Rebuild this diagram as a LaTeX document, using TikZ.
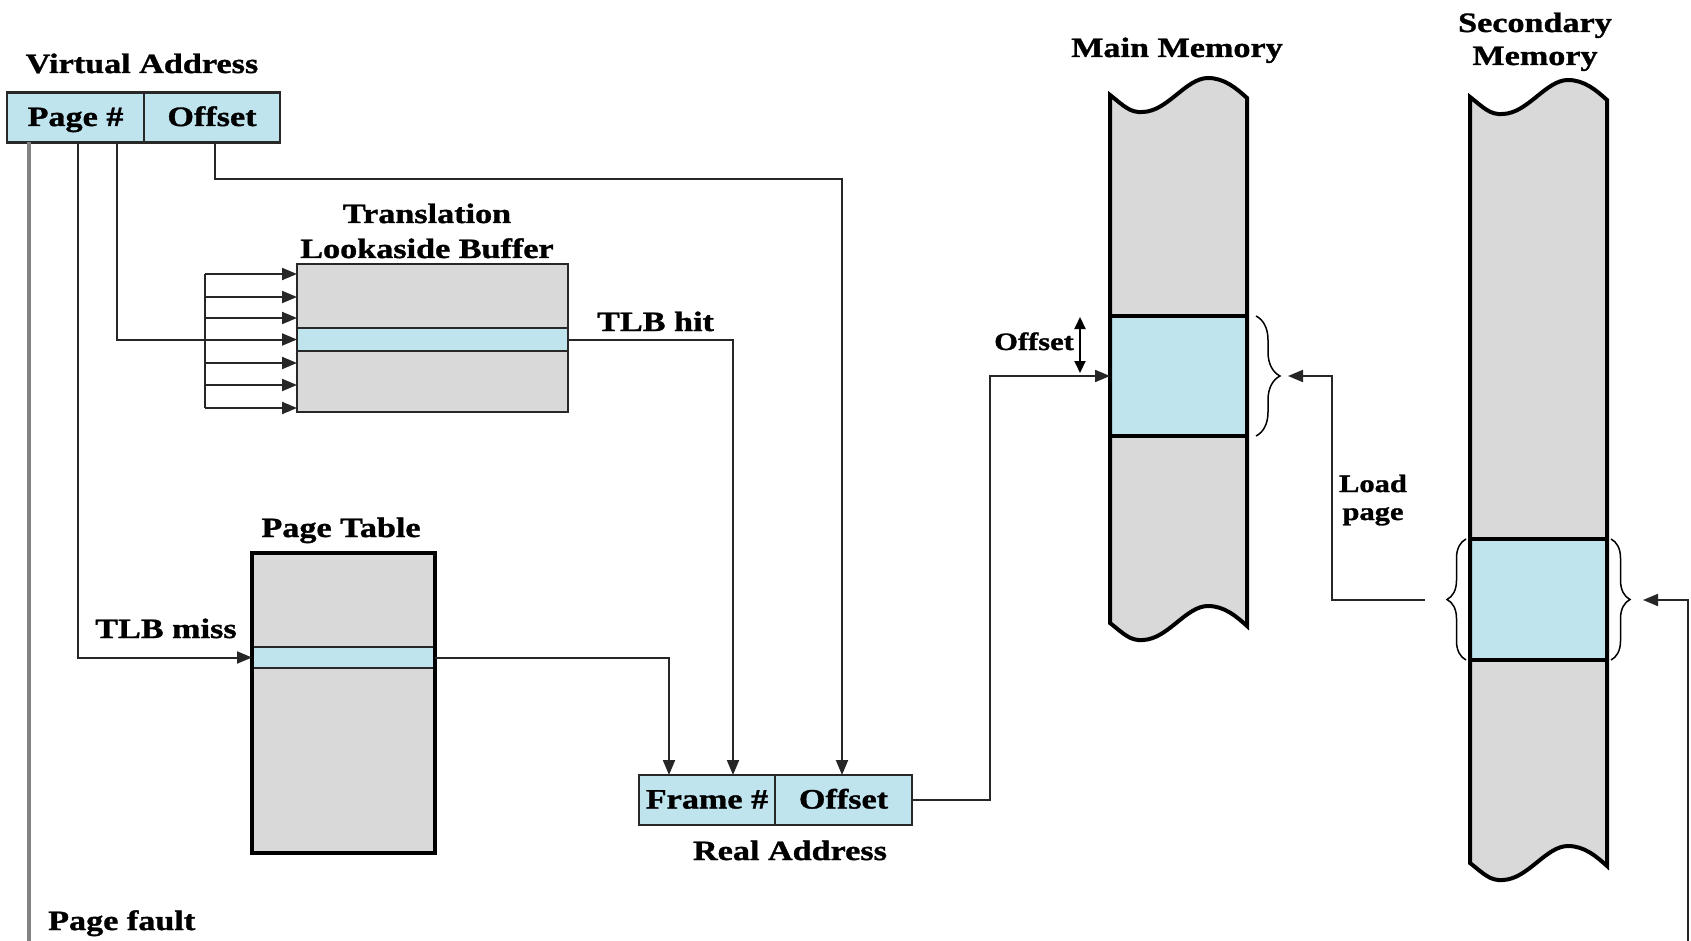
\documentclass[tikz,border=0pt]{standalone}
\usepackage{fontspec}
\setmainfont{Liberation Serif}[FakeStretch=1.22, BoldFeatures={FakeBold=1.2}]
\usetikzlibrary{arrows.meta,decorations.pathreplacing,calc}
\definecolor{lblue}{RGB}{191,228,238}
\definecolor{mgray}{RGB}{217,217,217}
\definecolor{fgray}{RGB}{130,130,130}
\definecolor{edge}{RGB}{40,40,40}
\begin{document}
\begin{tikzpicture}[x=1pt,y=-1pt,
  lbl/.style={font=\fontsize{28}{32}\selectfont\bfseries, inner sep=0pt, anchor=base},
  slbl/.style={font=\fontsize{25}{28}\selectfont\bfseries, inner sep=0pt, anchor=base},
  addr/.style={draw=edge, line width=2.5pt, fill=lblue, inner sep=0pt, outer sep=0pt, minimum height=50pt, text height=21pt, text depth=4pt, font=\fontsize{28}{32}\selectfont\bfseries},
  tab/.style={draw=edge, fill=mgray, inner sep=0pt, outer sep=0pt},
  rowb/.style={draw=edge, fill=lblue, inner sep=0pt, outer sep=0pt},
  conn/.style={draw=black!85, line width=2pt, -{Triangle[length=15pt,width=12pt]}},
  wire/.style={draw=black!85, line width=2pt},
  brc/.style={draw=black, line width=1.5pt, decorate, decoration={brace, amplitude=#1}},
  memline/.style={draw=black, line width=4pt}
]
\useasboundingbox (0,0) rectangle (1691,941);

% ---------- Virtual address ----------
\node[lbl] (vat) at (142,73) {Virtual Address};
\node[addr, minimum width=137pt] (va1) at (75.5,117.5) {Page \#};
\node[addr, minimum width=136pt] (va2) at (212,117.5) {Offset};

% ---------- TLB ----------
\node[lbl] (tlbt1) at (427,223) {Translation};
\node[lbl] (tlbt2) at (427,258) {Lookaside Buffer};
\node[tab, line width=2.5pt, minimum width=271pt, minimum height=148pt] (tlb) at (432.5,338) {};
\node[rowb, line width=2.5pt, minimum width=271pt, minimum height=23pt] (tlbrow) at (432.5,339.5) {};

% ---------- Page table ----------
\node[lbl] (ptt) at (341,537) {Page Table};
\node[tab, line width=4pt, minimum width=183pt, minimum height=300pt] (pt) at (343.5,703) {};
\node[rowb, line width=2.5pt, minimum width=183pt, minimum height=21pt] (ptrow) at (343.5,657.5) {};
\draw[line width=4pt, black] (pt.north west) rectangle (pt.south east);

% ---------- Real address ----------
\node[addr, minimum width=136pt] (ra1) at (707,800) {Frame \#};
\node[addr, minimum width=137pt] (ra2) at (843.5,800) {Offset};
\node[lbl] (rat) at (790,860) {Real Address};

% ---------- Main memory ----------
\node[lbl] (mmt) at (1177,57) {Main Memory};
\path[fill=mgray] (1110,95) .. controls (1124,106) and (1130,113) .. (1143,112)
  .. controls (1168,111) and (1186,78) .. (1208,78)
  .. controls (1224,78) and (1236,88) .. (1247,98) -- (1247,626)
  .. controls (1236,616) and (1224,606) .. (1208,606)
  .. controls (1186,606) and (1168,639) .. (1143,640)
  .. controls (1130,641) and (1124,634) .. (1110,623) -- cycle;
\node[rowb, draw=black, line width=3.5pt, minimum width=137pt, minimum height=120pt] (mmrow) at (1178.5,376) {};
\path[memline] (1110,95) .. controls (1124,106) and (1130,113) .. (1143,112)
  .. controls (1168,111) and (1186,78) .. (1208,78)
  .. controls (1224,78) and (1236,88) .. (1247,98) -- (1247,626)
  .. controls (1236,616) and (1224,606) .. (1208,606)
  .. controls (1186,606) and (1168,639) .. (1143,640)
  .. controls (1130,641) and (1124,634) .. (1110,623) -- cycle;

% ---------- Secondary memory ----------
\node[lbl] (smt1) at (1535,32) {Secondary};
\node[lbl] (smt2) at (1535,65) {Memory};
\path[fill=mgray] (1470,97) .. controls (1484,108) and (1490,115) .. (1503,114)
  .. controls (1528,113) and (1546,80) .. (1568,80)
  .. controls (1584,80) and (1596,90) .. (1607,100) -- (1607,866)
  .. controls (1596,856) and (1584,846) .. (1568,846)
  .. controls (1546,846) and (1528,879) .. (1503,880)
  .. controls (1490,881) and (1484,874) .. (1470,863) -- cycle;
\node[rowb, draw=black, line width=3.5pt, minimum width=137pt, minimum height=121pt] (smrow) at (1538.5,599.5) {};
\path[memline] (1470,97) .. controls (1484,108) and (1490,115) .. (1503,114)
  .. controls (1528,113) and (1546,80) .. (1568,80)
  .. controls (1584,80) and (1596,90) .. (1607,100) -- (1607,866)
  .. controls (1596,856) and (1584,846) .. (1568,846)
  .. controls (1546,846) and (1528,879) .. (1503,880)
  .. controls (1490,881) and (1484,874) .. (1470,863) -- cycle;

% ---------- Braces ----------
\draw[brc=24pt] (1256,316) -- (1256,436);
\draw[brc=19pt] (1466,660) -- (1466,539);
\draw[brc=19pt] (1611,539) -- (1611,660);

% ---------- Labels ----------
\node[lbl, anchor=base west] (hit) at (597,331) {TLB hit};
\node[lbl] (miss) at (166,638) {TLB miss};
\node[lbl, anchor=base west] (pf) at (48,930) {Page fault};
\node[slbl] (offl) at (1034,350) {Offset};
\node[slbl] (ld1) at (1373,492) {Load};
\node[slbl] (ld2) at (1373,520) {page};

% ---------- Connectors ----------
\coordinate (pfend) at (29,941);
\draw[line width=4pt, fgray] ([xshift=-46.5pt]va1.south) -- (pfend);
\draw[conn] ([xshift=2.5pt]va1.south) |- (ptrow.west);
\draw[conn] ([xshift=41.5pt]va1.south) |- (tlbrow.west);
\draw[conn] ([xshift=3pt]va2.south) -- ++(0,37) -| ([xshift=-1.5pt]ra2.north);

\foreach \y [count=\i] in {274,297,318,363,385,408} {
  \coordinate (b\i) at (205,\y);
  \draw[conn] (b\i) -- (b\i -| tlb.west);
}
\draw[wire] (b1) -- (b6);

\draw[conn] (tlbrow.east) -| ([xshift=26pt]ra1.north);
\draw[conn] (ptrow.east) -| ([xshift=-38pt]ra1.north);
\draw[conn] (ra2.east) -- ++(78,0) |- (mmrow.west);

\coordinate (oa1) at (1080,317);
\coordinate (oa2) at (1080,373);
\draw[line width=2pt, {Triangle[length=12pt,width=11pt]}-{Triangle[length=12pt,width=11pt]}] (oa1) -- (oa2);

\coordinate (ls) at (1425,600);
\coordinate (mmtip) at (1288,376);
\draw[conn] (ls) -- ++(-93,0) |- (mmtip);

\coordinate (rb) at (1688,941);
\coordinate (sectip) at (1643,600);
\draw[conn] (rb) |- (sectip);
\end{tikzpicture}
\end{document}
